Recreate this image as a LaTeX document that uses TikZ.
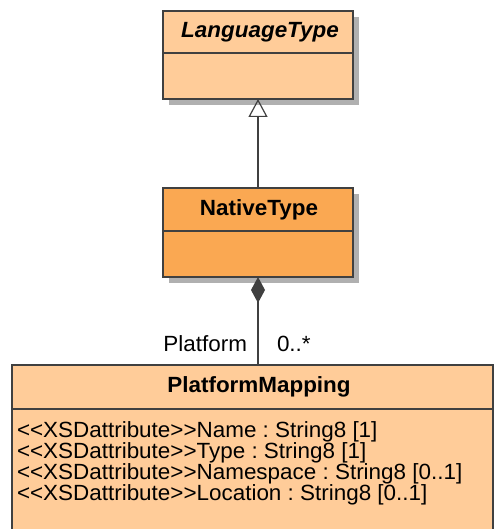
\documentclass[tikz,border=0pt]{standalone}
\usepackage{fontspec}
\setmainfont{Liberation Sans}
\usetikzlibrary{arrows.meta}
\definecolor{peach}{RGB}{255,204,153}
\definecolor{orangefill}{RGB}{250,168,82}
\definecolor{edgegray}{RGB}{64,64,64}
\definecolor{shadowgray}{RGB}{176,176,176}
\frenchspacing
\newcommand{\umltext}[1]{\scalebox{1.02}[1]{\fontsize{22}{24}\selectfont #1}}
\tikzset{
  classbox/.style={draw=edgegray, line width=1.5pt, inner sep=0pt, outer sep=0pt},
  divider/.style={draw=edgegray, line width=1.5pt},
  link/.style={draw=edgegray, line width=1.5pt},
  txt/.style={inner sep=0pt, outer sep=0pt, text=black},
}
\begin{document}
\begin{tikzpicture}[x=1pt,y=-1pt]
\useasboundingbox (0,0) rectangle (496,529);

% drop shadows
\fill[shadowgray] (169,17) rectangle (359,105);
\fill[shadowgray] (169,194) rectangle (359,283);

% LanguageType (abstract)
\node[classbox, fill=peach, minimum width=190pt, minimum height=88pt] (lang) at (258,55) {};
\draw[divider] (lang.west |- 0,53) -- (lang.east |- 0,53);
\node[txt, anchor=base] (langname) at (260,38) {\umltext{\textbf{\textit{LanguageType}}}};

% NativeType
\node[classbox, fill=orangefill, minimum width=190pt, minimum height=89pt] (native) at (258,232.5) {};
\draw[divider] (native.west |- 0,231) -- (native.east |- 0,231);
\node[txt, anchor=base] (nativename) at (259,215) {\umltext{\textbf{NativeType}}};

% PlatformMapping
\node[classbox, fill=peach, minimum width=481pt, minimum height=180pt] (pm) at (252.5,455) {};
\draw[divider] (pm.west |- 0,409) -- (pm.east |- 0,409);
\node[txt, anchor=base] (pmname) at (259,392) {\umltext{\textbf{PlatformMapping}}};
\node[txt, anchor=base west] (attr1) at (17,437) {\umltext{<{}<XSDattribute>{}>Name : String8 [1]}};
\node[txt, anchor=base west] (attr2) at (17,458) {\umltext{<{}<XSDattribute>{}>Type : String8 [1]}};
\node[txt, anchor=base west] (attr3) at (17,479) {\umltext{<{}<XSDattribute>{}>Namespace : String8 [0..1]}};
\node[txt, anchor=base west] (attr4) at (17,500) {\umltext{<{}<XSDattribute>{}>Location : String8 [0..1]}};

% generalization NativeType -> LanguageType
\draw[link, -{Triangle[open, length=18pt, width=19pt, line width=1.2pt]}] (native.north) -- (lang.south);

% composition NativeType <>-- PlatformMapping
\coordinate (pmtop) at (native.south |- pm.north);
\draw[link, {Diamond[length=26pt, width=14pt, fill=edgegray]}-] (native.south) -- (pmtop);

% association end labels
\node[txt, anchor=base east] (role) at (247,351) {\umltext{Platform}};
\node[txt, anchor=base west] (mult) at (277,351) {\umltext{0..*}};
\end{tikzpicture}
\end{document}
